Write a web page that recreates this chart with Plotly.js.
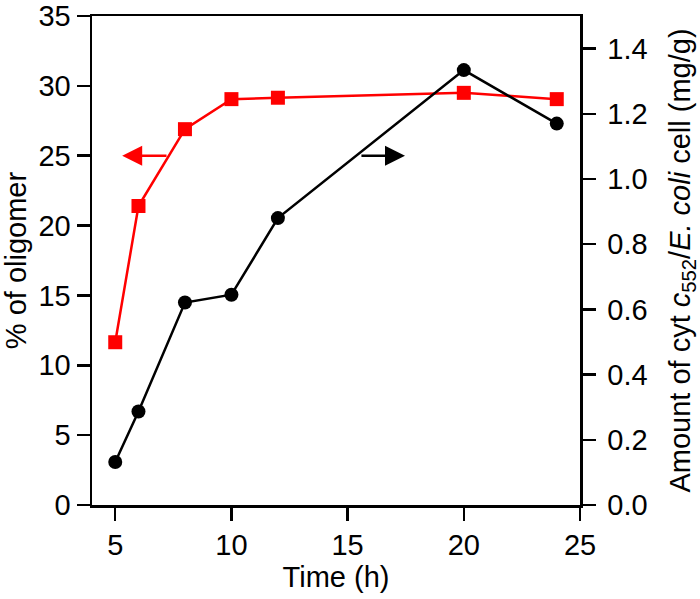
<!DOCTYPE html>
<html>
<head>
<meta charset="utf-8">
<script src="https://cdn.plot.ly/plotly-3.0.1.min.js"></script>
<style>html,body{margin:0;padding:0;background:#fff;}#chart{width:700px;height:599px;}</style>
</head>
<body>
<div id="chart"></div>
<script>
// Data
const timeH = [5, 6, 8, 10, 12, 20, 24];
const oligomerPct = [11.65, 21.4, 26.9, 29.05, 29.15, 29.5, 29.05];
const cytAmount = [0.132, 0.287, 0.621, 0.645, 0.88, 1.334, 1.17];

// Arrow indicators (data coordinates on left axis)
const redArrow = {tipX: 5.3, tailX: 7.27, y: 25};
const blackArrow = {tipX: 17.47, tailX: 15.53, y: 25};

const FONT = 'Liberation Sans, Arial, sans-serif';

const traces = [
  {
    x: timeH, y: oligomerPct, type: 'scatter', mode: 'lines+markers',
    line: {color: '#ff0000', width: 2.5},
    marker: {symbol: 'square', size: 14, color: '#ff0000'},
    yaxis: 'y', showlegend: false, hoverinfo: 'none'
  },
  {
    x: timeH, y: cytAmount, type: 'scatter', mode: 'lines+markers',
    line: {color: '#000000', width: 2.5},
    marker: {symbol: 'circle', size: 14, color: '#000000'},
    yaxis: 'y2', showlegend: false, hoverinfo: 'none'
  }
];

const axisCommon = {
  showline: true, linecolor: '#000', linewidth: 2.5,
  ticks: 'outside', ticklen: 13, tickwidth: 2.5, tickcolor: '#000',
  showgrid: false, zeroline: false,
  tickfont: {family: FONT, size: 29, color: '#000'}
};

const layout = {
  width: 700, height: 599,
  margin: {l: 92, r: 120, t: 16, b: 94},
  paper_bgcolor: '#fff', plot_bgcolor: '#fff',
  xaxis: Object.assign({}, axisCommon, {
    range: [4, 25], tick0: 0, dtick: 5, mirror: true,
    title: {text: 'Time (h)', font: {family: FONT, size: 29, color: '#000'}, standoff: 2}
  }),
  yaxis: Object.assign({}, axisCommon, {
    range: [0, 35], tick0: 0, dtick: 5,
    title: {text: '% of oligomer', font: {family: FONT, size: 29, color: '#000'}, standoff: 4}
  }),
  yaxis2: Object.assign({}, axisCommon, {
    range: [0, 1.5], tick0: 0, dtick: 0.2, tickformat: '.1f',
    overlaying: 'y', side: 'right', ticklabelstandoff: 6,
    title: {text: 'Amount of cyt <i>c</i><sub>552</sub>/<i>E. coli</i> cell (mg/g)', font: {family: FONT, size: 29, color: '#000'}, standoff: 24}
  }),
  annotations: [
    {x: redArrow.tipX, y: redArrow.y, xref: 'x', yref: 'y',
     ax: redArrow.tailX, ay: redArrow.y, axref: 'x', ayref: 'y',
     showarrow: true, arrowhead: 2, arrowsize: 1.6, arrowwidth: 2.5, arrowcolor: '#ff0000', text: ''},
    {x: blackArrow.tipX, y: blackArrow.y, xref: 'x', yref: 'y',
     ax: blackArrow.tailX, ay: blackArrow.y, axref: 'x', ayref: 'y',
     showarrow: true, arrowhead: 2, arrowsize: 1.6, arrowwidth: 2.5, arrowcolor: '#000000', text: ''}
  ]
};

Plotly.newPlot('chart', traces, layout, {staticPlot: true, displayModeBar: false});
</script>
</body>
</html>
